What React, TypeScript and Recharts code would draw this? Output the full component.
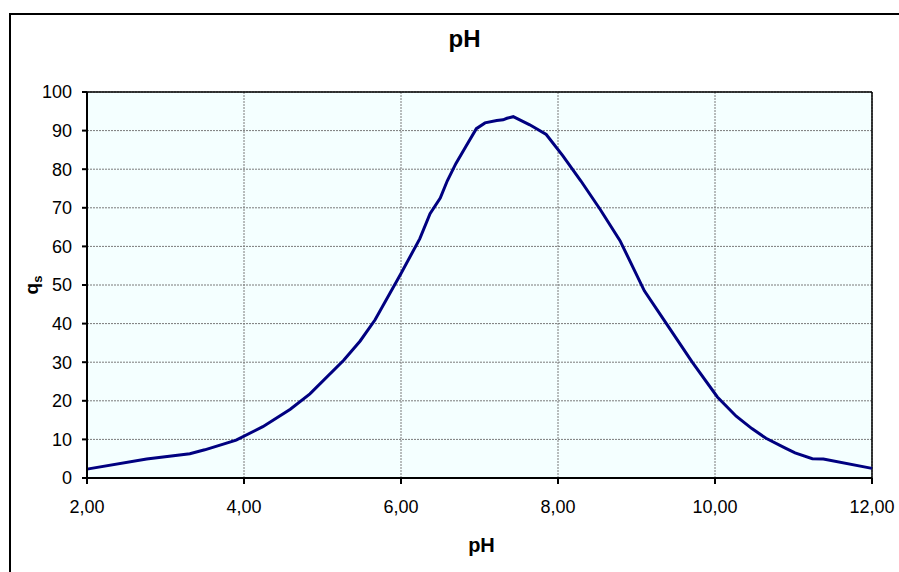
import React from 'react';
import { LineChart, Line, XAxis, YAxis, CartesianGrid, ReferenceLine, Label } from 'recharts';

const phValues = [2.0, 2.76, 3.31, 3.5, 3.9, 4.24, 4.59, 4.84, 5.27, 5.48, 5.67, 6.0, 6.24, 6.37, 6.5, 6.59, 6.7, 6.83, 6.96, 7.07, 7.22, 7.3, 7.35, 7.43, 7.64, 7.85, 8.06, 8.29, 8.54, 8.79, 9.1, 9.43, 9.71, 10.03, 10.27, 10.47, 10.65, 10.89, 11.02, 11.24, 11.38, 12.0];
const qsValues = [2.3, 4.9, 6.3, 7.3, 9.8, 13.3, 17.8, 21.8, 30.5, 35.5, 41, 53, 62, 68.5, 72.5, 77, 81.5, 86, 90.5, 92, 92.6, 92.8, 93.2, 93.6, 91.5, 89, 83.5, 77, 69.5, 61.5, 48.5, 38.5, 30, 21, 16, 12.8, 10.3, 7.8, 6.5, 5.0, 4.9, 2.5];
const xTicks = [2, 4, 6, 8, 10, 12];
const yTicks = [0, 10, 20, 30, 40, 50, 60, 70, 80, 90, 100];

const data = phValues.map((ph, i) => ({ ph, qs: qsValues[i] }));

const FONT = '"Liberation Sans", Arial, sans-serif';
const fmt = (v: number) => v.toFixed(2).replace('.', ',');

const YLabel = (props: any) => {
  const { viewBox } = props;
  const cy = viewBox.y + viewBox.height / 2;
  return (
    <text x={38} y={cy} transform={`rotate(-90, 38, ${cy})`} textAnchor="middle" fontFamily={FONT} fontWeight="bold" fontSize={19} fill="#000">
      q<tspan fontSize={13} dy={4}>s</tspan>
    </text>
  );
};

export default function App() {
  return (
    <div style={{ position: 'absolute', left: 0, top: 0, width: 899, height: 572, overflow: 'hidden', background: '#fff' }}>
      <div style={{ position: 'absolute', left: 9, top: 13, width: 1000, height: 1000, borderLeft: '2px solid #000', borderTop: '2px solid #000' }} />
      <div style={{ position: 'absolute', left: 0, top: 25, width: 929, textAlign: 'center', fontFamily: FONT, fontWeight: 'bold', fontSize: 24 }}>pH</div>
      <div style={{ position: 'absolute', left: 0, top: 0 }}>
        <LineChart width={899} height={572} data={data} margin={{ top: 92, right: 27, left: 0, bottom: 0 }}>
          <CartesianGrid fill="#F4FFFF" stroke="#7a7a7a" strokeDasharray="2 1" vertical horizontal />
          <XAxis
            dataKey="ph"
            type="number"
            domain={[2, 12]}
            ticks={xTicks}
            tickFormatter={fmt}
            height={94}
            stroke="#000"
            strokeWidth={2}
            tickSize={6}
            tickMargin={16}
            tick={{ fill: '#000', fontSize: 18, fontFamily: FONT }}
          >
            <Label value="pH" position="insideBottom" offset={20} dx={2} style={{ fontFamily: FONT, fontWeight: 'bold', fontSize: 20, fill: '#000' }} />
          </XAxis>
          <YAxis
            type="number"
            domain={[0, 100]}
            ticks={yTicks}
            width={87}
            stroke="#000"
            strokeWidth={2}
            tickSize={5}
            tickMargin={10}
            interval={0}
            tick={{ fill: '#000', fontSize: 18, fontFamily: FONT }}
          >
            <Label content={<YLabel />} />
          </YAxis>
          <ReferenceLine y={100} stroke="#000" strokeWidth={1.5} />
          <ReferenceLine x={12} stroke="#000" strokeWidth={1.5} />
          <Line type="linear" dataKey="qs" stroke="#000080" strokeWidth={3} dot={false} isAnimationActive={false} />
        </LineChart>
      </div>
    </div>
  );
}
